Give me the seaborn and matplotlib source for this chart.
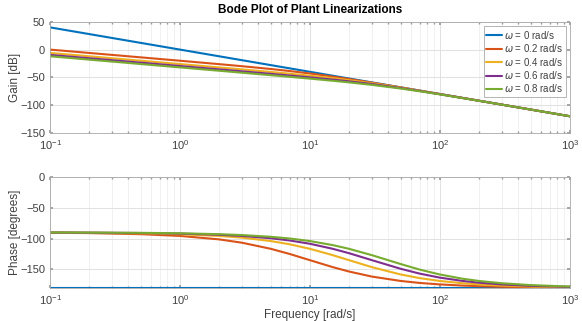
import numpy as np
import pandas as pd
import seaborn as sns
import matplotlib.pyplot as plt

# frequencies [rad/s] at which the curves were read
freq = [0.1, 0.2, 0.5, 1, 2, 3, 5, 7, 10, 15, 20, 30, 50, 70, 100, 150, 200, 300, 500, 1000]

labels = [r"$\omega$ = 0 rad/s", r"$\omega$ = 0.2 rad/s", r"$\omega$ = 0.4 rad/s",
          r"$\omega$ = 0.6 rad/s", r"$\omega$ = 0.8 rad/s"]
colors = ["#0072BD", "#D95319", "#EDB120", "#7E2F8E", "#77AC30"]

# gain [dB]
gain_w0 = [40, 27.96, 12.04, 0, -12.04, -19.08, -27.96, -33.80, -40, -47.04, -52.04,
           -59.08, -67.96, -73.80, -80, -87.04, -92.04, -99.08, -107.96, -120]
gain_w02 = [0, -6.02, -13.99, -20.04, -26.19, -29.91, -34.95, -38.63, -43.01, -48.64, -53.01,
            -59.54, -68.13, -73.89, -80.04, -87.06, -92.05, -99.09, -107.96, -120.0]
gain_w04 = [-6.02, -12.04, -20.00, -26.03, -32.08, -35.66, -40.26, -43.42, -46.99, -51.48, -55.05,
            -60.68, -68.60, -74.14, -80.17, -87.12, -92.08, -99.10, -107.97, -120.0]
gain_w06 = [-9.54, -15.56, -23.52, -29.55, -35.58, -39.13, -43.64, -46.67, -50.00, -54.03, -57.16,
            -62.09, -69.29, -74.53, -80.37, -87.21, -92.14, -99.13, -107.98, -120.0]
gain_w08 = [-12.04, -18.06, -26.02, -32.04, -38.07, -41.61, -46.09, -49.07, -52.30, -56.13, -59.03,
            -63.52, -70.11, -75.03, -80.64, -87.34, -92.21, -99.16, -107.99, -120.0]

# phase [deg]
phase_w0 = [-180] * 20
phase_w02 = [-90.6, -91.1, -92.9, -95.7, -101.3, -106.7, -116.6, -125.0, -135.0, -146.3, -153.4,
             -161.6, -168.7, -171.9, -174.3, -176.2, -177.1, -178.1, -178.9, -179.4]
phase_w04 = [-90.3, -90.6, -91.4, -92.9, -95.7, -98.5, -104.0, -109.3, -116.6, -126.9, -135.0,
             -146.3, -158.2, -164.1, -168.7, -172.4, -174.3, -176.2, -177.7, -178.9]
phase_w06 = [-90.2, -90.4, -91.0, -91.9, -93.8, -95.7, -99.5, -103.1, -108.4, -116.6, -123.7,
             -135.0, -149.0, -156.8, -163.3, -168.7, -171.5, -174.3, -176.6, -178.3]
phase_w08 = [-90.1, -90.3, -90.7, -91.4, -92.9, -94.3, -97.1, -99.9, -104.0, -110.6, -116.6,
             -126.9, -141.3, -150.3, -158.2, -165.1, -168.7, -172.4, -175.4, -177.7]

gains = [gain_w0, gain_w02, gain_w04, gain_w06, gain_w08]
phases = [phase_w0, phase_w02, phase_w04, phase_w06, phase_w08]

rows = []
for lab, g, p in zip(labels, gains, phases):
    for f, gv, pv in zip(freq, g, p):
        rows.append({"freq": f, "gain": gv, "phase": pv, "case": lab})
df = pd.DataFrame(rows)

sns.set_theme(style="ticks")
plt.rcParams["font.family"] = ["Liberation Sans", "DejaVu Sans"]
plt.rcParams["mathtext.fontset"] = "dejavusans"

fig = plt.figure(figsize=(5.82, 3.21), dpi=100)
ax1 = fig.add_axes([0.086, 0.586, 0.893, 0.346])
ax2 = fig.add_axes([0.086, 0.103, 0.893, 0.346])

sns.lineplot(data=df, x="freq", y="gain", hue="case", palette=colors, linewidth=1.5,
             ax=ax1, sort=False)
sns.lineplot(data=df, x="freq", y="phase", hue="case", palette=colors, linewidth=1.5,
             ax=ax2, sort=False, legend=False)

txt = "#404040"
for ax in (ax1, ax2):
    ax.set_xscale("log")
    ax.set_xlim(0.1, 1000)
    ax.grid(True, which="major", color="#dcdcdc", linewidth=0.6)
    ax.grid(True, which="minor", color="#ececec", linewidth=0.5)
    ax.tick_params(which="both", direction="in", labelsize=8, colors="#9a9a9a",
                   labelcolor=txt, length=2.5, top=True, right=True)
    ax.tick_params(which="minor", length=1.5)
    for s in ax.spines.values():
        s.set_visible(True)
        s.set_color("#a8a8a8")
        s.set_linewidth(0.6)
    ax.set_axisbelow(True)

ax1.set_ylim(-150, 50)
ax1.set_yticks([-150, -100, -50, 0, 50])
ax1.set_xlabel("")
ax1.set_ylabel("Gain [dB]", fontsize=8.5, color=txt)
ax1.yaxis.set_label_coords(-0.056, 0.5)
ax1.set_title("Bode Plot of Plant Linearizations", fontsize=8.5, fontweight="bold",
              color="#000000", pad=6)

ax2.set_ylim(-180, 0)
ax2.set_yticks([-150, -100, -50, 0])
ax2.set_xlabel("Frequency [rad/s]", fontsize=8.5, color=txt, labelpad=2)
ax2.set_ylabel("Phase [degrees]", fontsize=8.5, color=txt)
ax2.yaxis.set_label_coords(-0.056, 0.5)

leg = ax1.legend(loc="upper right", fontsize=7, handlelength=1.6, handletextpad=0.2,
                 labelspacing=0.15, borderpad=0.3, fancybox=False, framealpha=1,
                 borderaxespad=0.4)
leg.get_frame().set_edgecolor("#a8a8a8")
leg.get_frame().set_linewidth(0.6)
for t in leg.get_texts():
    t.set_color(txt)

fig.savefig("out.png", dpi=100)
